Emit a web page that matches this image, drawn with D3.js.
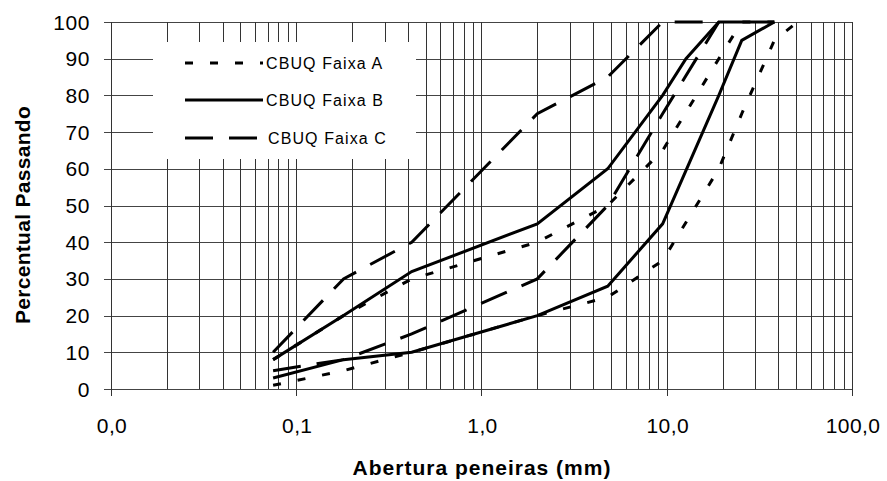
<!DOCTYPE html>
<html>
<head>
<meta charset="utf-8">
<script src="https://cdn.jsdelivr.net/npm/d3@7"></script>
<style>
  html, body { margin: 0; padding: 0; background: #fff; }
  svg { display: block; font-family: "Liberation Sans", Arial, sans-serif; }
</style>
</head>
<body>
<svg id="chart" width="887" height="481"></svg>
<script>
// Sieve openings (mm) and passing percentages for each grading band
const sieves = [0.075, 0.18, 0.42, 2.0, 4.8, 9.5, 12.7, 19.1, 25.4, 38.1, 50.8];

const faixaA_sup = [8, 20, 30, 40, 50, 65, null, 90, 100, 100, null];
const faixaA_inf = [1, 5, 10, 20, 25, 35, null, 60, 75, 95, 100];
const faixaB_sup = [8, 20, 32, 45, 60, 80, 90, 100, 100, 100, null];
const faixaB_inf = [3, 8, 10, 20, 28, 45, null, 80, 95, 100, null];
const faixaC_sup = [10, 30, 40, 75, 85, 100, 100, 100, null, null, null];
const faixaC_inf = [5, 8, 15, 30, 50, 75, null, 100, null, null, null];

const seriesNames = ["CBUQ Faixa A", "CBUQ Faixa B", "CBUQ Faixa C"];
const xTickValues = [0.01, 0.1, 1, 10, 100];
const xTickLabels = ["0,0", "0,1", "1,0", "10,0", "100,0"];
const yTickValues = [0, 10, 20, 30, 40, 50, 60, 70, 80, 90, 100];

const dashes = { "CBUQ Faixa A": "8,17", "CBUQ Faixa B": null, "CBUQ Faixa C": "28,16" };

const curves = [
  { name: "CBUQ Faixa A", values: faixaA_sup },
  { name: "CBUQ Faixa A", values: faixaA_inf },
  { name: "CBUQ Faixa B", values: faixaB_sup },
  { name: "CBUQ Faixa B", values: faixaB_inf },
  { name: "CBUQ Faixa C", values: faixaC_sup },
  { name: "CBUQ Faixa C", values: faixaC_inf }
];

const svg = d3.select("#chart");
const plotLeft = 111, plotRight = 852, plotTop = 22, plotBottom = 389;

const x = d3.scaleLog().domain([0.01, 100]).range([plotLeft, plotRight]);
const y = d3.scaleLinear().domain([0, 100]).range([plotBottom, plotTop]);

// Horizontal gridlines
const grid = svg.append("g");
grid.selectAll("line.h").data(yTickValues).join("line")
  .attr("class", "h")
  .attr("x1", plotLeft - 7).attr("x2", plotRight)
  .attr("y1", d => Math.round(y(d)) + 0.5).attr("y2", d => Math.round(y(d)) + 0.5)
  .attr("stroke", "#444").attr("stroke-width", 1);

// Vertical log gridlines (every unit within each decade)
const vLines = [];
for (let e = -2; e < 2; e++) {
  for (let k = 1; k <= 9; k++) vLines.push(k * Math.pow(10, e));
}
vLines.push(100);
grid.selectAll("line.v").data(vLines).join("line")
  .attr("class", "v")
  .attr("x1", d => Math.round(x(d)) + 0.5).attr("x2", d => Math.round(x(d)) + 0.5)
  .attr("y1", plotTop)
  .attr("y2", d => xTickValues.some(t => Math.abs(t - d) < 1e-9) ? plotBottom + 7 : plotBottom)
  .attr("stroke", "#333").attr("stroke-width", 1);

// Legend backdrop hides the grid behind the key
svg.append("rect")
  .attr("x", 153).attr("y", 42).attr("width", 263).attr("height", 117)
  .attr("fill", "#fff");

// Y axis tick labels
svg.append("g").selectAll("text").data(yTickValues).join("text")
  .attr("x", 90).attr("y", d => y(d)).attr("dy", "0.36em")
  .attr("text-anchor", "end")
  .attr("font-size", 21).attr("letter-spacing", 0.6).attr("fill", "#000")
  .text(d => d);

// X axis tick labels
svg.append("g").selectAll("text").data(xTickValues).join("text")
  .attr("x", d => x(d) + 1).attr("y", 433)
  .attr("text-anchor", "middle")
  .attr("font-size", 21).attr("letter-spacing", 0.4).attr("fill", "#000")
  .text((d, i) => xTickLabels[i]);

// Grading curves
const line = d3.line()
  .x(d => x(d[0])).y(d => y(d[1]));

svg.append("g").selectAll("path").data(curves).join("path")
  .attr("d", c => line(sieves.map((s, i) => [s, c.values[i]]).filter(p => p[1] != null)))
  .attr("fill", "none").attr("stroke", "#000").attr("stroke-width", 3)
  .attr("stroke-linejoin", "miter")
  .attr("stroke-dasharray", c => dashes[c.name]);

// Legend
const legend = svg.append("g");
const rowsY = [63, 100, 138];
seriesNames.forEach((name, i) => {
  legend.append("line")
    .attr("x1", 185).attr("x2", 263)
    .attr("y1", rowsY[i]).attr("y2", rowsY[i])
    .attr("stroke", "#000").attr("stroke-width", 3)
    .attr("stroke-dasharray", dashes[name]);
  legend.append("text")
    .attr("x", i === 2 ? 268 : 266).attr("y", rowsY[i]).attr("dy", "0.36em")
    .attr("font-size", 16).attr("letter-spacing", 1.1).attr("fill", "#000")
    .text(name);
});

// Axis titles
svg.append("text")
  .attr("transform", "translate(30,215) rotate(-90)")
  .attr("text-anchor", "middle")
  .attr("font-size", 21).attr("font-weight", "bold")
  .attr("letter-spacing", 0.3)
  .text("Percentual Passando");

svg.append("text")
  .attr("x", 482).attr("y", 475)
  .attr("text-anchor", "middle")
  .attr("font-size", 21).attr("font-weight", "bold")
  .attr("letter-spacing", 1)
  .text("Abertura peneiras (mm)");
</script>
</body>
</html>
